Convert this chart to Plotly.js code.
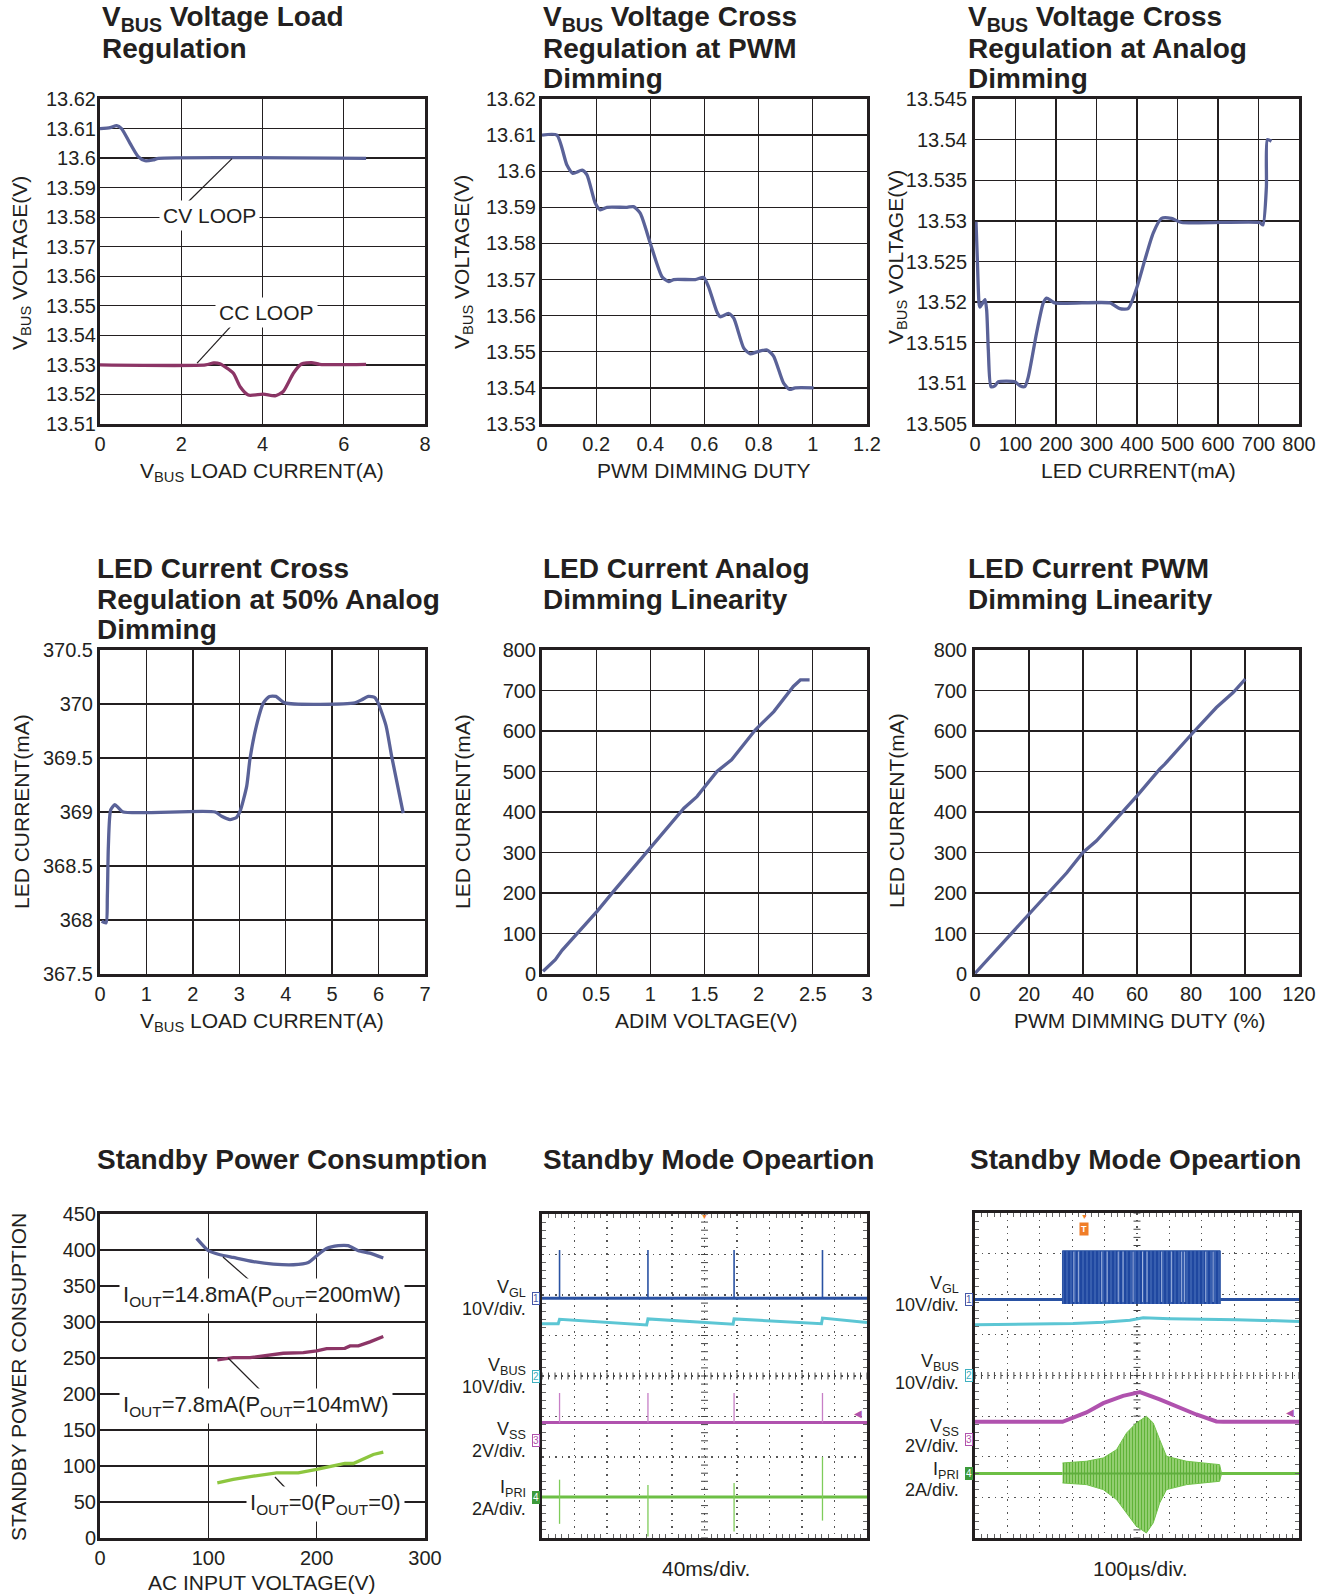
<!DOCTYPE html>
<html><head><meta charset="utf-8">
<script src="https://cdn.plot.ly/plotly-3.0.1.min.js"></script>
<style>html,body{margin:0;padding:0;background:#fff}</style>
</head><body><div id="chart" style="width:1328px;height:1596px"></div>
<script>
// ---------------- DATA ----------------
// Panel 1: VBUS Voltage Load Regulation
const p1XTicks = ['0','2','4','6','8'];
const p1YTicks = ['13.51','13.52','13.53','13.54','13.55','13.56','13.57','13.58','13.59','13.6','13.61','13.62'];
const p1CvX = [0, 0.25, 0.41, 0.53, 0.74, 0.94, 1.11, 1.31, 1.44, 6.55];
const p1CvY = [13.61, 13.6103, 13.611, 13.61, 13.605, 13.6005, 13.5991, 13.5994, 13.5999, 13.5999];
const p1CcX = [0, 2.6, 2.8, 2.95, 3.28, 3.45, 3.65, 4.02, 4.31, 4.51, 4.76, 4.96, 5.21, 5.41, 6.55];
const p1CcY = [13.53, 13.53, 13.5307, 13.5304, 13.5272, 13.5226, 13.5198, 13.5201, 13.5195, 13.521, 13.5272, 13.5303, 13.5308, 13.5302, 13.5302];

// Panel 2: VBUS Voltage Cross Regulation at PWM Dimming
const p2XTicks = ['0','0.2','0.4','0.6','0.8','1','1.2'];
const p2YTicks = ['13.53','13.54','13.55','13.56','13.57','13.58','13.59','13.6','13.61','13.62'];
const p2X = [0, 0.055, 0.092, 0.114, 0.148, 0.166, 0.197, 0.215, 0.24, 0.314, 0.338, 0.363, 0.4, 0.443, 0.468, 0.486, 0.566, 0.597, 0.615, 0.646, 0.658, 0.689, 0.708, 0.745, 0.769, 0.794, 0.831, 0.855, 0.892, 0.914, 0.935, 1.003];
const p2Y = [13.61, 13.61, 13.6017, 13.5994, 13.6003, 13.599, 13.5911, 13.5893, 13.59, 13.59, 13.5902, 13.5883, 13.58, 13.5708, 13.5694, 13.57, 13.57, 13.5706, 13.568, 13.561, 13.5597, 13.5606, 13.5593, 13.551, 13.5494, 13.55, 13.5505, 13.5488, 13.5413, 13.5396, 13.54, 13.54];

// Panel 3: VBUS Voltage Cross Regulation at Analog Dimming
const p3XTicks = ['0','100','200','300','400','500','600','700','800'];
const p3YTicks = ['13.505','13.51','13.515','13.52','13.525','13.53','13.535','13.54','13.545'];
const p3X = [2.5, 5.8, 9.9, 12.3, 24.7, 28.8, 32.9, 39.5, 49, 57.6, 98.7, 111, 123, 131.6, 152, 168.6, 176.8, 197, 333, 357.7, 378, 399, 419.4, 440, 460.5, 485, 510, 703, 711, 719.5, 722, 732];
const p3Y = [13.5299, 13.5252, 13.5199, 13.5194, 13.5203, 13.519, 13.5141, 13.5096, 13.5097, 13.5102, 13.5102, 13.5097, 13.5096, 13.5108, 13.5162, 13.5199, 13.5205, 13.5199, 13.5199, 13.5192, 13.5192, 13.5217, 13.5252, 13.5285, 13.5303, 13.5303, 13.5298, 13.5298, 13.5295, 13.5342, 13.54, 13.5398];

// Panel 4: LED Current Cross Regulation at 50% Analog Dimming
const p4XTicks = ['0','1','2','3','4','5','6','7'];
const p4YTicks = ['367.5','368','368.5','369','369.5','370','370.5'];
const p4X = [0.036, 0.13, 0.158, 0.18, 0.23, 0.32, 0.395, 0.5, 2.48, 2.62, 2.8, 2.94, 3.02, 3.16, 3.23, 3.37, 3.52, 3.65, 3.79, 3.98, 5.49, 5.64, 5.78, 5.92, 5.99, 6.16, 6.28, 6.53];
const p4Y = [367.988, 367.973, 368.22, 368.68, 369.02, 369.067, 369.04, 369.0, 369.0, 368.96, 368.93, 368.95, 369.01, 369.24, 369.49, 369.8, 370.01, 370.07, 370.07, 370.01, 370.01, 370.04, 370.07, 370.06, 370.01, 369.8, 369.52, 368.99];

// Panel 5: LED Current Analog Dimming Linearity
const p5XTicks = ['0','0.5','1','1.5','2','2.5','3'];
const p5YTicks = ['0','100','200','300','400','500','600','700','800'];
const p5X = [0.01, 0.123, 0.185, 0.29, 0.385, 0.508, 0.66, 0.985, 1.06, 1.31, 1.43, 1.615, 1.75, 1.97, 2.14, 2.32, 2.385, 2.47];
const p5Y = [6.6, 35.4, 58.4, 88.8, 117.6, 154.6, 204, 307, 331.4, 409.5, 438, 500, 529, 603, 648, 710, 726, 726];

// Panel 6: LED Current PWM Dimming Linearity
const p6XTicks = ['0','20','40','60','80','100','120'];
const p6YTicks = ['0','100','200','300','400','500','600','700','800'];
const p6X = [0, 4.9, 13.6, 26.5, 34, 40, 45, 55, 60, 68.4, 70.3, 80.2, 89.4, 95.6, 100.1];
const p6Y = [1.6, 37, 102, 193, 250, 300, 329, 403, 440, 506, 518, 592, 658, 695, 728];

// Panel 7: Standby Power Consumption
const p7XTicks = ['0','100','200','300'];
const p7YTicks = ['0','50','100','150','200','250','300','350','400','450'];
const p7HighX = [89.2, 100, 110.8, 123, 141.5, 160, 178.5, 192.3, 200, 209, 220, 229, 238.5, 249, 261.5];
const p7HighY = [416.1, 399, 393.4, 389.7, 384, 380.4, 379.5, 382.7, 392, 402, 406, 406, 399, 395.7, 388.8];
const p7MidX = [108.3, 123, 138.5, 153.8, 169.2, 187.7, 200, 209.2, 226, 230.8, 238.5, 249.2, 261.5];
const p7MidY = [247.3, 250.6, 250.6, 253.8, 256.6, 257.5, 259.8, 263, 263.5, 266.8, 266.8, 272.4, 279.8];
const p7LowX = [108.3, 123, 141.5, 163, 169.2, 183, 200, 215.4, 226, 233.8, 243, 252.3, 261.5];
const p7LowY = [76.6, 81.3, 85.9, 90.5, 90.5, 90.5, 95.2, 99.8, 103.5, 103.5, 110, 116, 119.3];

// Panel 8: scope 40ms/div (units: divisions, 10 x 8)
const p8VglBase = 5.92, p8VglTop = 7.11;
const p8SpikeX = [0.54, 3.26, 5.91, 8.63];
const p8VbusX = [0, 0.5, 0.54, 3.22, 3.26, 5.88, 5.91, 8.6, 8.63, 10];
const p8VbusY = [5.29, 5.29, 5.40, 5.26, 5.41, 5.28, 5.41, 5.29, 5.43, 5.32];
const p8VssBase = 2.85, p8VssTop = 3.58;
const p8IpriBase = 1.01;
const p8IpriTop = [1.44, 1.31, 1.36, 2.0];
const p8IpriBottom = [0.35, 0.04, 0.16, 0.43];
const p8MarkerLevels = [5.92, 4.0, 2.41, 1.0];

// Panel 9: scope 100us/div
const p9VglBase = 5.87;
const p9BurstX = [2.70, 7.57];
const p9BurstLow = 5.76, p9BurstHigh = 7.07;
const p9BurstStreaks = [3.05, 3.19, 3.91, 4.08, 4.42, 4.57, 4.88, 5.17, 5.31, 5.76, 6.07, 6.37, 6.47, 7.12, 7.35];
const p9VbusX = [0, 3.03, 3.96, 4.78, 5.19, 6.01, 8.07, 10];
const p9VbusY = [5.25, 5.28, 5.31, 5.36, 5.42, 5.40, 5.375, 5.33];
const p9VssX = [0, 2.70, 3.44, 3.96, 4.57, 5.09, 5.70, 6.22, 6.83, 7.45, 7.66, 10];
const p9VssY = [2.86, 2.86, 3.09, 3.32, 3.50, 3.59, 3.41, 3.24, 3.04, 2.87, 2.86, 2.86];
const p9IpriBase = 1.585;
const p9EnvX = [2.70, 3.44, 3.96, 4.37, 4.68, 4.98, 5.29, 5.50, 5.70, 5.91, 6.53, 7.04, 7.55, 7.61];
const p9EnvUpper = [1.847, 1.889, 1.97, 2.175, 2.586, 2.832, 2.996, 2.832, 2.42, 2.01, 1.889, 1.847, 1.806, 1.585];
const p9EnvLower = [1.355, 1.314, 1.191, 0.945, 0.617, 0.289, 0.125, 0.371, 0.863, 1.191, 1.314, 1.355, 1.396, 1.585];
const p9MarkerLevels = [5.87, 4.0, 2.42, 1.585];

// ---------------- LAYOUT HELPERS ----------------
const W = 1328, H = 1596;
const FONT = '"Liberation Sans", Arial, Helvetica, sans-serif';
const INK = '#231f20';
const BLUE = '#5a6298', MAROON = '#8c3566', LGREEN = '#8dc63f';
const S_BLUE = '#2a52a3', S_CYAN = '#5cc6d4', S_MAG = '#b052ae', S_GREEN = '#6dbf45';
const boxes = [
  [100,425,99,424],[542,867,99,424],[975,1299,99,424],
  [100,425,650,974],[542,867,650,974],[975,1299,650,974],
  [100,425,1214,1538],[542,867,1214,1538],[975,1299,1213,1538]
];
const yStandoff = [-3, -1, 1, 0, -1, 1, -3];
const ranges = [
  [[0,8],[13.51,13.62]],[[0,1.2],[13.53,13.62]],[[0,800],[13.505,13.545]],
  [[0,7],[367.5,370.5]],[[0,3],[0,800]],[[0,120],[0,800]],
  [[0,300],[0,450]],[[0,10],[0,8]],[[0,10],[0,8]]
];
const tickSets = [
  [p1XTicks,p1YTicks],[p2XTicks,p2YTicks],[p3XTicks,p3YTicks],
  [p4XTicks,p4YTicks],[p5XTicks,p5YTicks],[p6XTicks,p6YTicks],
  [p7XTicks,p7YTicks]
];
const ax = i => i === 1 ? '' : String(i);

const layout = {
  width: W, height: H, margin: {l:0,r:0,t:0,b:0},
  paper_bgcolor: '#fff', plot_bgcolor: '#fff', showlegend: false,
  font: {family: FONT, color: INK},
  annotations: [], shapes: []
};

for (let i = 1; i <= 9; i++) {
  const [l, r, t, b] = boxes[i-1];
  const xd = [l/W, r/W], yd = [1 - b/H, 1 - t/H];
  const scope = i >= 8;
  const common = {
    showline: true, linewidth: 3, linecolor: INK, mirror: true,
    zeroline: false, fixedrange: true,
    tickfont: {family: FONT, size: 20, color: INK}
  };
  let xa, ya;
  if (!scope) {
    const [xt, yt] = tickSets[i-1];
    xa = Object.assign({}, common, {domain: xd, range: ranges[i-1][0], anchor: 'y'+ax(i),
      tickmode: 'array', tickvals: xt.map(Number), ticktext: xt, ticks: '',
      showgrid: true, gridcolor: INK, gridwidth: 1.3});
    ya = Object.assign({}, common, {domain: yd, range: ranges[i-1][1], anchor: 'x'+ax(i),
      tickmode: 'array', tickvals: yt.map(Number), ticktext: yt, ticks: '', ticklabelstandoff: yStandoff[i-1],
      showgrid: true, gridcolor: INK, gridwidth: 1.3});
  } else {
    const g = {showgrid: true, gridcolor: '#555', gridwidth: 1.2, griddash: '1.5px,5px',
      showticklabels: false, ticks: 'inside', ticklen: 0, dtick: 1, tick0: 0,
      minor: {dtick: 0.2, ticks: 'inside', ticklen: 4, tickcolor: '#666', tickwidth: 1, showgrid: false}};
    xa = Object.assign({}, common, g, {domain: xd, range: [0,10], anchor: 'y'+ax(i), mirror: 'ticks'});
    ya = Object.assign({}, common, g, {domain: yd, range: [0,8], anchor: 'x'+ax(i), mirror: 'ticks'});
  }
  layout['xaxis'+ax(i)] = xa;
  layout['yaxis'+ax(i)] = ya;
}

const traces = [];
function addLine(i, x, y, color, width, extra) {
  traces.push(Object.assign({type:'scatter', mode:'lines', x, y, xaxis:'x'+ax(i), yaxis:'y'+ax(i),
    line:{color, width}, hoverinfo:'skip', cliponaxis:true}, extra || {}));
}
function addCurve(i, x, y, color) {
  addLine(i, x, y, color, 3.3, {line:{color, width:3.3, shape:'spline', smoothing:0.6}});
}

// panels 1-7
addCurve(1, p1CvX, p1CvY, BLUE);
addCurve(1, p1CcX, p1CcY, MAROON);
addCurve(2, p2X, p2Y, BLUE);
addCurve(3, p3X, p3Y, BLUE);
addCurve(4, p4X, p4Y, BLUE);
addLine(5, p5X, p5Y, BLUE, 3.3);
addLine(6, p6X, p6Y, BLUE, 3.3);
addLine(7, p7HighX, p7HighY, BLUE, 3.3, {line:{color:BLUE,width:3.3,shape:'spline',smoothing:0.5}});
addLine(7, p7MidX, p7MidY, MAROON, 3.3);
addLine(7, p7LowX, p7LowY, LGREEN, 3.3);

// scope decorations: center cross ticks
function centerTicks(i) {
  const hx = [], hy = [], vx = [], vy = [];
  for (let k = 0; k <= 50; k++) { hx.push(k*0.2); hy.push(4); }
  for (let k = 0; k <= 40; k++) { vx.push(5); vy.push(k*0.2); }
  traces.push({type:'scatter', mode:'markers', x:hx, y:hy, xaxis:'x'+ax(i), yaxis:'y'+ax(i),
    marker:{symbol:'line-ns', size:5, line:{width:1, color:'#444'}}, hoverinfo:'skip'});
  traces.push({type:'scatter', mode:'markers', x:vx, y:vy, xaxis:'x'+ax(i), yaxis:'y'+ax(i),
    marker:{symbol:'line-ew', size:5, line:{width:1, color:'#444'}}, hoverinfo:'skip'});
}
centerTicks(8); centerTicks(9);

function spikes(xs, bottoms, tops) {
  const X = [], Y = [];
  xs.forEach((p, k) => { X.push(p, p, null); Y.push(bottoms[k], tops[k], null); });
  return [X, Y];
}
// panel 8
{
  const n = p8SpikeX.length;
  addLine(8, [0,10], [p8VglBase,p8VglBase], S_BLUE, 3);
  let s = spikes(p8SpikeX, Array(n).fill(p8VglBase), Array(n).fill(p8VglTop));
  addLine(8, s[0], s[1], S_BLUE, 1.6);
  addLine(8, p8VbusX, p8VbusY, S_CYAN, 3);
  addLine(8, [0,10], [p8VssBase,p8VssBase], S_MAG, 3);
  s = spikes(p8SpikeX, Array(n).fill(p8VssBase), Array(n).fill(p8VssTop));
  addLine(8, s[0], s[1], '#c77fc6', 1.3);
  addLine(8, [0,10], [p8IpriBase,p8IpriBase], S_GREEN, 3);
  s = spikes(p8SpikeX, p8IpriBottom, p8IpriTop);
  addLine(8, s[0], s[1], '#7fcc5a', 1.3);
}
// panel 9
{
  addLine(9, [0, p9BurstX[0]], [p9VglBase, p9VglBase], S_BLUE, 3);
  addLine(9, [p9BurstX[1], 10], [p9VglBase, p9VglBase], S_BLUE, 3);
  traces.push({type:'scatter', mode:'lines', xaxis:'x9', yaxis:'y9', hoverinfo:'skip',
    x:[p9BurstX[0], p9BurstX[0], p9BurstX[1], p9BurstX[1]], y:[p9BurstLow, p9BurstHigh, p9BurstHigh, p9BurstLow],
    fill:'toself', fillcolor:S_BLUE,
    fillpattern:{shape:'|', fgcolor:'#1f47a0', bgcolor:'#3d63b3', size:4, solidity:0.6},
    line:{color:S_BLUE, width:1}});
  const n = p9BurstStreaks.length;
  const s = spikes(p9BurstStreaks, Array(n).fill(p9BurstLow + 0.05), Array(n).fill(p9BurstHigh - 0.02));
  addLine(9, s[0], s[1], '#9fb3de', 1);
  addLine(9, p9VbusX, p9VbusY, S_CYAN, 3);
  addLine(9, p9VssX, p9VssY, S_MAG, 4);
  addLine(9, [0, p9EnvX[0]], [p9IpriBase, p9IpriBase], S_GREEN, 3);
  addLine(9, [p9EnvX[p9EnvX.length-1], 10], [p9IpriBase, p9IpriBase], S_GREEN, 3);
  traces.push({type:'scatter', mode:'lines', xaxis:'x9', yaxis:'y9', hoverinfo:'skip',
    x: p9EnvX.concat(p9EnvX.slice().reverse()), y: p9EnvUpper.concat(p9EnvLower.slice().reverse()),
    fill:'toself', fillcolor:'#82ca58',
    fillpattern:{shape:'|', fgcolor:'#5fb338', bgcolor:'#aadb8a', size:3, solidity:0.55},
    line:{color:'#72c24a', width:1}});
  addLine(9, [p9EnvX[0], p9EnvX[p9EnvX.length-1]], [p9IpriBase, p9IpriBase], '#5fae3c', 2);
}

// ---------------- TEXT ----------------
const A = layout.annotations;
function pa(text, xpx, ypx, o) {
  A.push(Object.assign({text, x: xpx/W, y: 1 - ypx/H, xref:'paper', yref:'paper', showarrow:false,
    xanchor:'center', yanchor:'middle', font:{family:FONT, size:21, color:INK}}, o || {}));
}
function title(text, xpx, basePx) {
  pa('<b>' + text + '</b>', xpx, basePx - 10, {xanchor:'left', font:{family:FONT, size:28, color:INK}});
}
title('V<sub>BUS</sub> Voltage Load', 100, 29); title('Regulation', 100, 59);
title('V<sub>BUS</sub> Voltage Cross', 541, 29); title('Regulation at PWM', 541, 59); title('Dimming', 541, 88);
title('V<sub>BUS</sub> Voltage Cross', 966, 29); title('Regulation at Analog', 966, 59); title('Dimming', 966, 88);
title('LED Current Cross', 95, 578); title('Regulation at 50% Analog', 95, 609); title('Dimming', 95, 639);
title('LED Current Analog', 541, 578); title('Dimming Linearity', 541, 609);
title('LED Current PWM', 966, 578); title('Dimming Linearity', 966, 609);
title('Standby Power Consumption', 95, 1169);
title('Standby Mode Opeartion', 541, 1169);
title('Standby Mode Opeartion', 968, 1169);

// axis titles
const rot = {textangle:-90};
pa('V<sub>BUS</sub> VOLTAGE(V)', 21, 263, rot);
pa('V<sub>BUS</sub> VOLTAGE(V)', 463, 262, rot);
pa('V<sub>BUS</sub> VOLTAGE(V)', 897, 257, rot);
pa('LED CURRENT(mA)', 21, 812, rot);
pa('LED CURRENT(mA)', 462, 812, rot);
pa('LED CURRENT(mA)', 896, 810, rot);
pa('STANDBY POWER CONSUPTION', 18, 1377, rot);
pa('V<sub>BUS</sub> LOAD CURRENT(A)', 262, 472);
pa('PWM DIMMING DUTY', 703, 470);
pa('LED CURRENT(mA)', 1138, 470);
pa('V<sub>BUS</sub> LOAD CURRENT(A)', 262, 1022);
pa('ADIM VOLTAGE(V)', 706, 1020);
pa('PWM DIMMING DUTY (%)', 1140, 1020);
pa('AC INPUT VOLTAGE(V)', 262, 1582);
pa('40ms/div.', 706, 1568);
pa('100\u00b5s/div.', 1140, 1568);

// in-plot labels with leader lines
function da(i, text, x, y, o) {
  A.push(Object.assign({text, x, y, xref:'x'+ax(i), yref:'y'+ax(i), showarrow:false,
    xanchor:'center', yanchor:'middle', bgcolor:'#fff', borderpad:3,
    font:{family:FONT, size:21, color:INK}}, o || {}));
}
function lead(i, x0, y0, x1, y1) {
  layout.shapes.push({type:'line', xref:'x'+ax(i), yref:'y'+ax(i), x0, y0, x1, y1,
    line:{color:INK, width:1.2}, layer:'above'});
}
lead(1, 2.14, 13.5848, 3.25, 13.5998);
lead(1, 3.27, 13.5438, 2.39, 13.5306);
da(1, 'CV LOOP', 2.7, 13.5807);
da(1, 'CC LOOP', 4.09, 13.5479);
lead(7, 145, 348.6, 113.5, 390.3);
lead(7, 157, 191.7, 118.2, 250);
lead(7, 181.8, 52.8, 161.5, 84.7);
const p7Font = {family:FONT, size:22, color:INK};
da(7, 'I<sub>OUT</sub>=14.8mA(P<sub>OUT</sub>=200mW)', 149.5, 336, {font:p7Font});
da(7, 'I<sub>OUT</sub>=7.8mA(P<sub>OUT</sub>=104mW)', 144, 183, {font:p7Font});
da(7, 'I<sub>OUT</sub>=0(P<sub>OUT</sub>=0)', 207.7, 47, {font:p7Font});

// scope channel labels and ground markers (paper coordinates)
const scopeNamePx = {8: [1288, 1366, 1430, 1488], 9: [1284, 1362, 1427, 1470]};
const scopeScalePx = {8: [1309, 1387, 1451, 1509], 9: [1305, 1383, 1446, 1490]};
function scopeLabels(i, levels) {
  const [l, r, t, b] = boxes[i-1];
  const divPx = d => t + (8 - d) * (b - t) / 8;
  const names = ['V<sub>GL</sub>','V<sub>BUS</sub>','V<sub>SS</sub>','I<sub>PRI</sub>'];
  const scales = ['10V/div.','10V/div.','2V/div.','2A/div.'];
  const cols = ['#4658a8', '#3fb0c0', S_MAG, '#3d9a3a'];
  const f = {family:FONT, size:18, color:INK};
  levels.forEach((lv, k) => {
    const y = divPx(lv);
    pa(names[k], l - 14, scopeNamePx[i][k], {xanchor:'right', font:f});
    pa(scales[k], l - 14, scopeScalePx[i][k], {xanchor:'right', font:f});
    const filled = k === 3;
    pa(String(k+1), l - 2, y, {xanchor:'right', font:{family:FONT, size:10, color: filled ? '#fff' : cols[k]},
      bordercolor: cols[k], borderwidth: 1, borderpad: 0, bgcolor: filled ? cols[k] : '#fff'});
  });
  pa('\u25c0', r - 3, divPx(3.08), {xanchor:'right', font:{size:10, color:S_MAG}});
}
scopeLabels(8, p8MarkerLevels);
scopeLabels(9, p9MarkerLevels);
A.push({text:'\u25bc', x:5, y:7.93, xref:'x8', yref:'y8', showarrow:false, xanchor:'center', yanchor:'middle',
  font:{size:7, color:'#f07d28'}});
A.push({text:'\u25bc', x:3.37, y:7.92, xref:'x9', yref:'y9', showarrow:false, xanchor:'center', yanchor:'middle',
  font:{size:7, color:'#f07d28'}});
A.push({text:'<b>T</b>', x:3.37, y:7.6, xref:'x9', yref:'y9', showarrow:false, xanchor:'center', yanchor:'middle',
  font:{family:FONT, size:9, color:'#fff'}, bgcolor:'#f07d28', borderpad:1});

Plotly.newPlot('chart', traces, layout, {staticPlot:true, displayModeBar:false});
</script></body></html>
